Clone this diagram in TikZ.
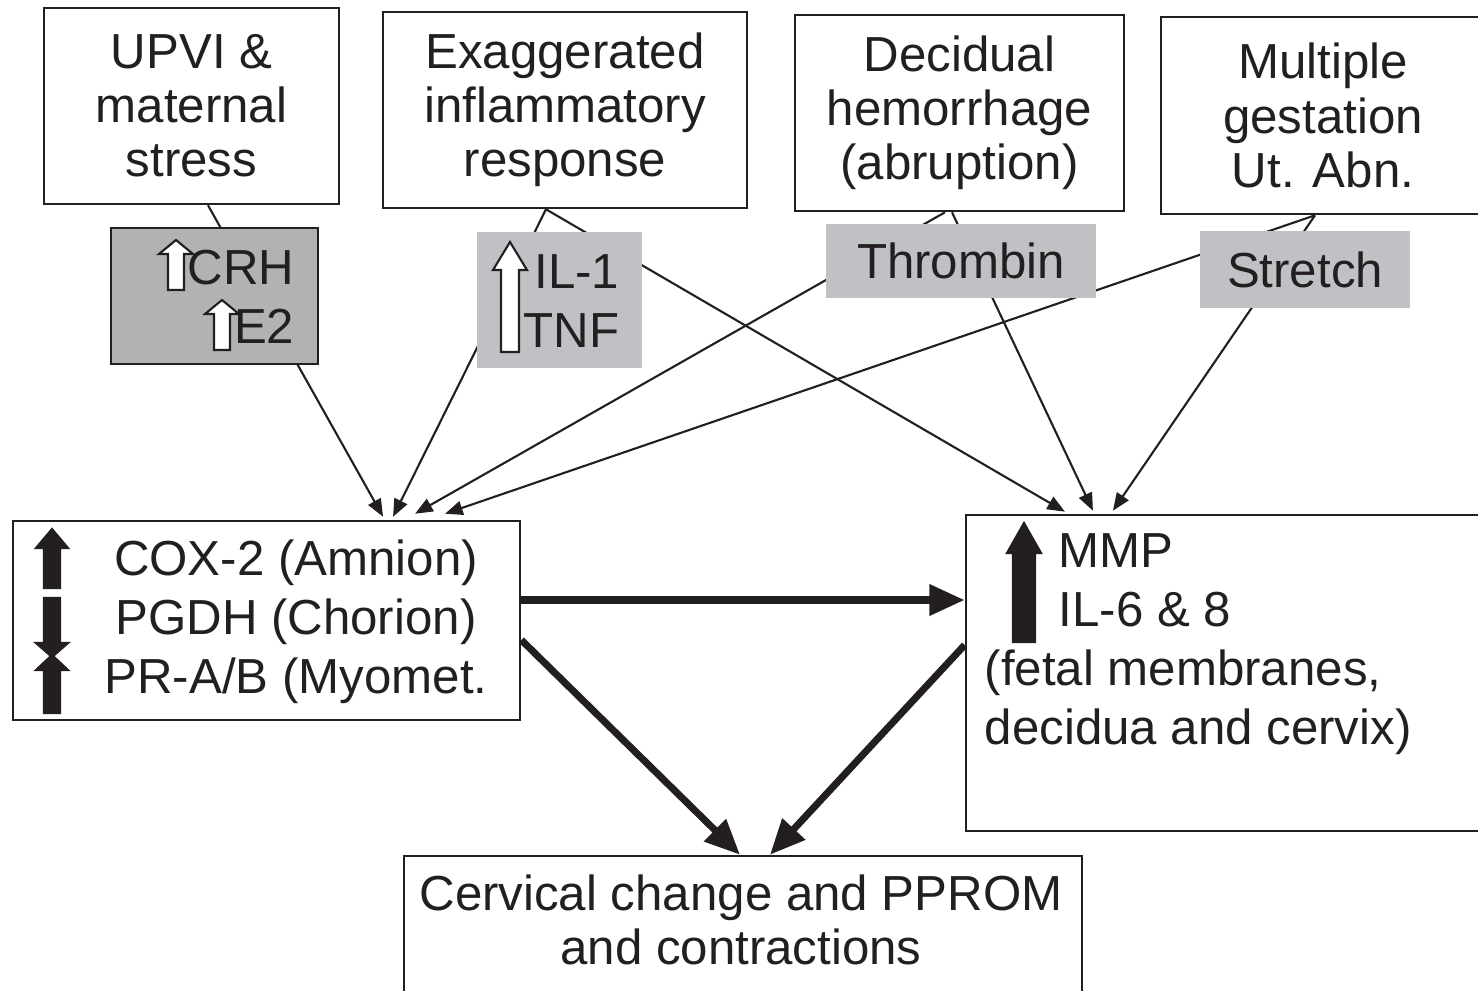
\documentclass[tikz,border=0pt]{standalone}
\usepackage{fontspec}
\setmainfont{Liberation Sans}
\usetikzlibrary{arrows.meta}
\definecolor{inkblack}{RGB}{35,31,32}
\definecolor{crhgrey}{RGB}{178,178,181}
\definecolor{boxgrey}{RGB}{192,193,197}
\tikzset{
  topbox/.style={draw=inkblack, line width=0.7pt, align=center, inner sep=0pt,
    font=\fontsize{14}{15.4}\selectfont, text=inkblack},
  mainbox/.style={draw=inkblack, line width=0.7pt, inner sep=0pt},
  maintext/.style={font=\fontsize{14}{16.8}\selectfont, text=inkblack, inner sep=0pt},
  greybox/.style={fill=boxgrey, inner sep=0pt, font=\fontsize{14}{16.8}\selectfont, text=inkblack},
  link/.style={draw=inkblack, line width=0.6pt, -{Triangle[length=5pt,width=4pt]}},
  bigarrow/.style={draw=inkblack, line width=2pt, -{Triangle[length=10pt,width=8.5pt]}},
}
\begin{document}
\begin{tikzpicture}[x=0.01cm, y=-0.01cm]
  \useasboundingbox (0,0) rectangle (1478,990);
  % causes
  \node[topbox, minimum width=2.95cm, minimum height=1.96cm] (upvi) at (191.5,106) {UPVI \&\\maternal\\stress};
  \node[topbox, minimum width=3.64cm, minimum height=1.96cm] (exag) at (565,110) {Exaggerated\\inflammatory\\response};
  \node[topbox, minimum width=3.29cm, minimum height=1.96cm] (decid) at (959.5,113) {Decidual\\hemorrhage\\(abruption)};
  \node[topbox, minimum width=3.24cm, minimum height=1.97cm] (multi) at (1323,115.5) {Multiple\\gestation\\Ut. Abn.};
  % effects
  \node[mainbox, minimum width=5.07cm, minimum height=1.99cm] (cox) at (266.5,620.5) {};
  \node[maintext, align=center] (coxtext) at (296,622) {COX-2 (Amnion)\\PGDH (Chorion)\\PR-A/B (Myomet.};
  \node[mainbox, minimum width=5.24cm, minimum height=3.16cm] (mmp) at (1228,673) {};
  \node[maintext, align=left, anchor=west] (mmptext) at (984,644) {\hspace{21pt}MMP\\\hspace{21pt}IL-6 \& 8\\(fetal membranes,\\decidua and cervix)};
  \node[mainbox, minimum width=6.78cm, minimum height=1.44cm] (bot) at (743,928) {};
  \node[maintext, align=center, font=\fontsize{14}{15.4}\selectfont] (bottext) at (741,920) {Cervical change and PPROM\\and contractions};
  % connectors
  \draw[link] ([xshift=0.165cm]upvi.south) -- ([xshift=1.165cm,yshift=0.03cm]cox.north);
  \draw[link] ([xshift=-0.19cm]exag.south) -- ([xshift=1.265cm,yshift=0.03cm]cox.north);
  \draw[link] ([xshift=-0.19cm]exag.south) -- ([xshift=-1.63cm,yshift=0.02cm]mmp.north);
  \draw[link] ([xshift=-0.145cm]decid.south) -- ([xshift=1.485cm,yshift=0.06cm]cox.north);
  \draw[link] ([xshift=-0.075cm]decid.south) -- ([xshift=-1.35cm,yshift=0.03cm]mmp.north);
  \draw[link] ([xshift=-0.08cm]multi.south) -- ([xshift=1.785cm,yshift=0.06cm]cox.north);
  \draw[link] ([xshift=-0.08cm]multi.south) -- ([xshift=-1.15cm,yshift=0.03cm]mmp.north);
  \draw[bigarrow] (cox.east |- 0,600) -- (mmp.west |- 0,600);
  \draw[bigarrow] (cox.east |- 0,640) -- ([xshift=-0.03cm]bot.north);
  \draw[bigarrow] (mmp.west |- 0,645) -- ([xshift=0.27cm]bot.north);
  % mediators
  \node[greybox, fill=crhgrey, draw=inkblack, line width=0.7pt, minimum width=2.07cm, minimum height=1.36cm] (crh) at (214.5,296) {};
  \node[greybox, minimum width=1.65cm, minimum height=1.36cm] (il1) at (559.5,300) {};
  \node[greybox, minimum width=2.70cm, minimum height=0.74cm] (thr) at (961,261) {Thrombin};
  \node[greybox, minimum width=2.10cm, minimum height=0.77cm] (str) at (1305,269.5) {Stretch};
  \node[maintext, align=right, anchor=east] (crhtext) at (295,297) {CRH\\E2};
  \node[maintext, align=right, anchor=east] (iltext) at (620,301) {IL-1\\TNF};
  % up and down marks
  \foreach \x/\ya/\yb/\yc/\hw/\sw/\col in {176/240/254/290/17/8/white, 222/300/314/350/17/8/white,
      510/242/270/352/17/9/white, 52/529/548/588/16/8/inkblack, 52/657/643/598/16/8/inkblack,
      52/655/670/713/16/8/inkblack, 1024/523/553/642/17/11/inkblack}
    \draw[inkblack, fill=\col, line width=0.6pt] (\x-\sw,\yc) -- (\x-\sw,\yb) -- (\x-\hw,\yb) -- (\x,\ya)
      -- (\x+\hw,\yb) -- (\x+\sw,\yb) -- (\x+\sw,\yc) -- cycle;
\end{tikzpicture}
\end{document}
